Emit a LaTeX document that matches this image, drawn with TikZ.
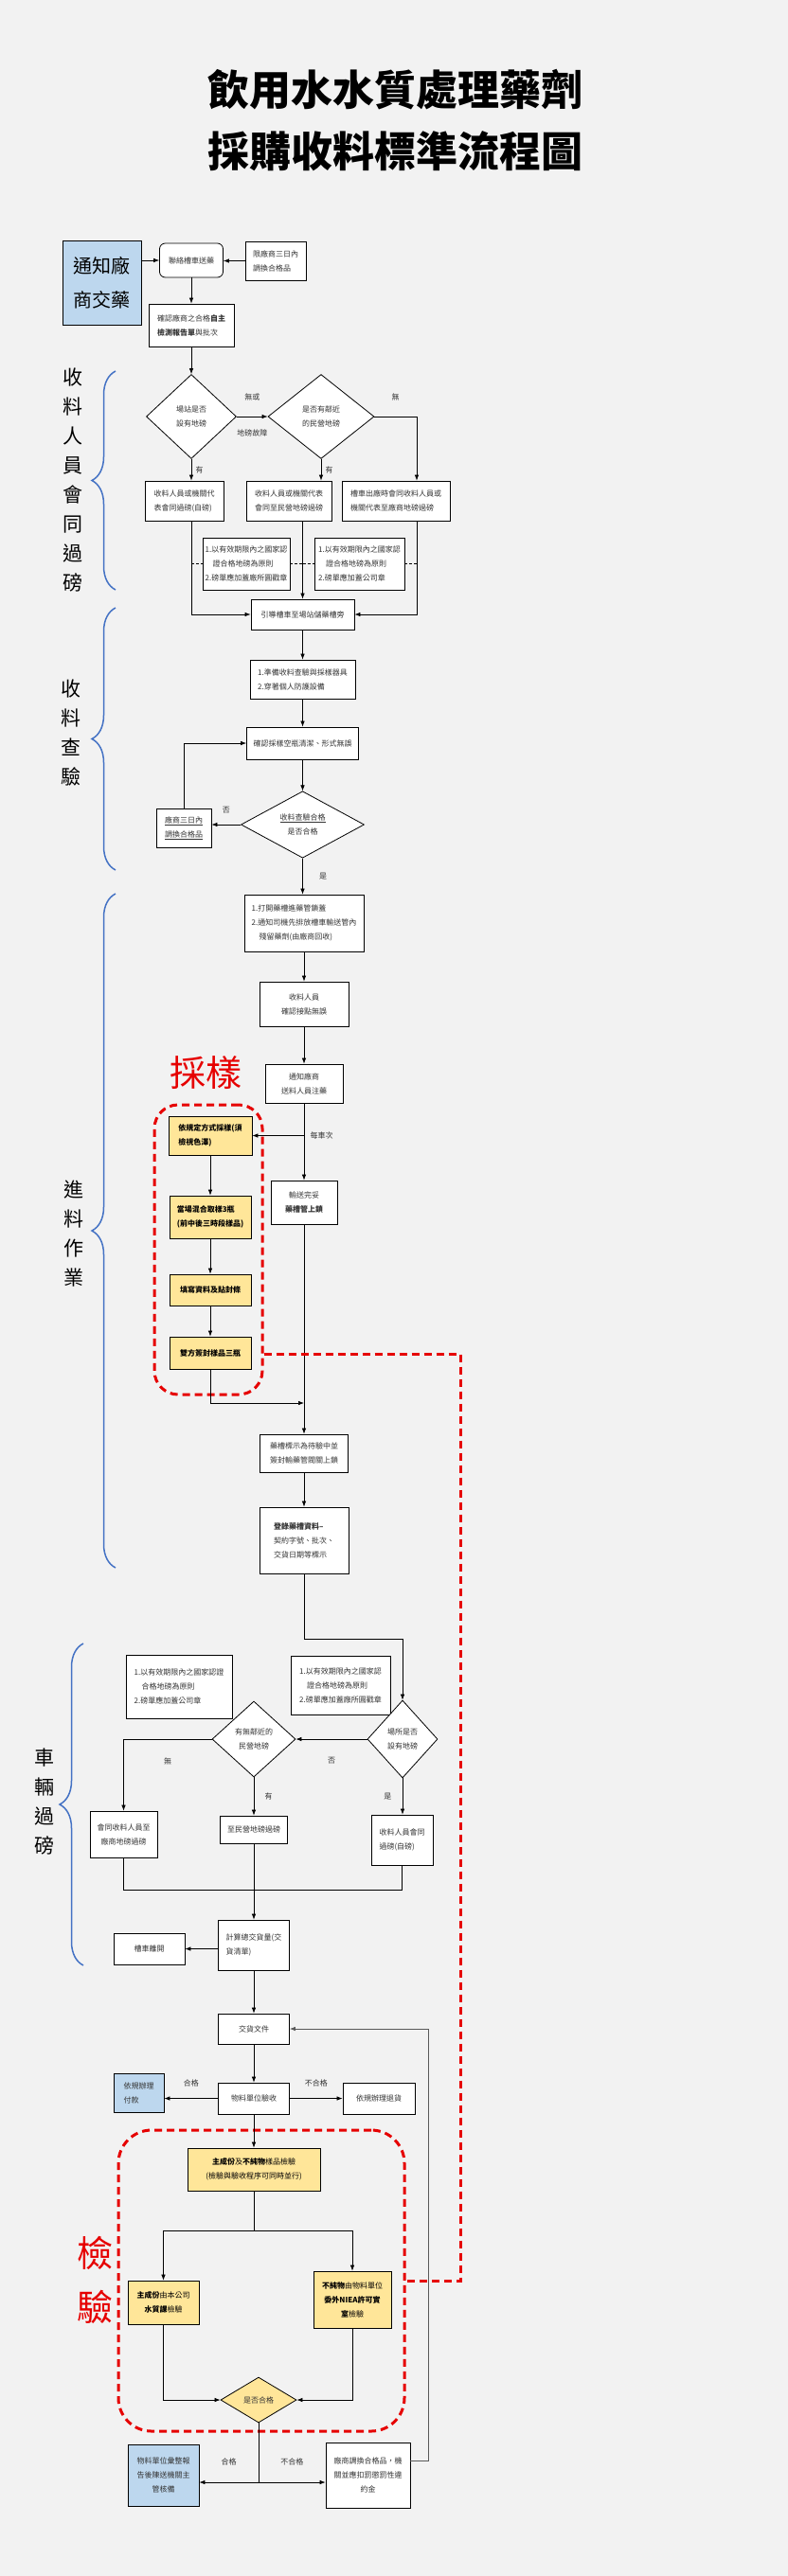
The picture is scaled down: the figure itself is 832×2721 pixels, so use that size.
\documentclass[tikz,border=0pt]{standalone}
\usepackage{fontspec}
\setmainfont{Noto Sans CJK TC}
\usetikzlibrary{shapes.geometric,arrows.meta,decorations.pathreplacing}
\definecolor{bgcol}{HTML}{F2F2F2}
\definecolor{boxblue}{HTML}{BDD7EE}
\definecolor{boxyellow}{HTML}{FFE699}
\definecolor{bracecol}{HTML}{4472C4}
\definecolor{redline}{HTML}{E60000}
\definecolor{txtgray}{HTML}{333333}

\begin{document}
\begin{tikzpicture}[x=1pt,y=-1pt,>={Latex[length=6pt,width=4.5pt]},
    wbox/.style={draw,fill=white,line width=0.8pt,inner sep=2pt,text=txtgray,
      font=\fontsize{8}{15}\selectfont,align=left},
    ybox/.style={wbox,fill=boxyellow,text=black},
    sbox/.style={ybox,font=\fontsize{8}{15}\selectfont\bfseries},
    bbox/.style={wbox,fill=boxblue},
    sz/.style 2 args={minimum width=#1pt,minimum height=#2pt},
    dia/.style={diamond,draw,fill=white,line width=0.8pt,inner sep=0pt,text=txtgray,
      font=\fontsize{8}{15}\selectfont,align=center},
    lab/.style={font=\fontsize{8}{10}\selectfont,text=txtgray},
    conn/.style={line width=0.7pt},
    reddash/.style={draw=redline,line width=3pt,dash pattern=on 8pt off 5pt},
    redarea/.style={reddash,rounded corners=25pt,inner sep=0pt},
    redtxt/.style={text=redline,font=\fontsize{38}{57}\selectfont,align=center},
    bluebrace/.style={decorate,decoration={brace,amplitude=25pt},draw=bracecol,line width=1.5pt},
    side/.style={font=\fontsize{21}{31}\selectfont,align=center}]
  \fill[bgcol] (0,0) rectangle (832,2721);
  \node[font=\fontsize{44}{65}\selectfont\bfseries,align=center] (title) at (417,127.5)
    {飲用水水質處理藥劑\\採購收料標準流程圖};

  \node[redarea,sz={114}{306}] (samplearea) at (220,1320) {};
  \node[redarea,rounded corners=35pt,sz={302}{318}] (testarea) at (276,2409) {};
  \node[redtxt] (cap1) at (217,1133) {採樣};
  \node[redtxt] (cap2) at (100,2408.5) {檢\\驗};

  \draw[bluebrace] (122,623) -- (122,392);
  \draw[bluebrace] (122,919) -- (122,642);
  \draw[bluebrace] (122,1656) -- (122,944);
  \draw[bluebrace] (88,2076) -- (88,1736);
  \node[side] (sec1) at (77,507.5) {收\\料\\人\\員\\會\\同\\過\\磅};
  \node[side] (sec2) at (75,774.5) {收\\料\\查\\驗};
  \node[side] (sec3) at (78,1303.5) {進\\料\\作\\業};
  \node[side] (sec4) at (47,1902.5) {車\\輛\\過\\磅};

  \node[bbox,sz={83}{89},text=black,font=\fontsize{20}{36}\selectfont] (notify) at (107.5,298.5) {通知廠\\商交藥};
  \node[wbox,sz={67}{36},rounded corners=6pt] (contact) at (202,275) {聯絡槽車送藥};
  \node[wbox,sz={64}{41}] (limit3) at (291,275.5) {限廠商三日內\\調換合格品};
  \node[wbox,sz={90}{45}] (check) at (202,343.5) {確認廠商之合格\textbf{自主}\\\textbf{檢測報告單}與批次};
  \node[dia,sz={95}{89}] (d1) at (202,440) {場站是否\\設有地磅};
  \node[dia,sz={112}{89}] (d2) at (339,440) {是否有鄰近\\的民營地磅};
  \node[wbox,sz={83}{42}] (w1) at (194.5,529) {收料人員或機關代\\表會同過磅(自磅)};
  \node[wbox,sz={90}{42}] (w2) at (305,529) {收料人員或機關代表\\會同至民營地磅過磅};
  \node[wbox,sz={114}{42}] (w3) at (418,529) {槽車出廠時會同收料人員或\\機關代表至廠商地磅過磅};
  \coordinate (w3in) at ([xshift=22pt]w3.north);
  \coordinate (w3out) at ([xshift=22pt]w3.south);
  \node[wbox,sz={92}{55}] (note1) at (260,595.5) {1.以有效期限內之國家認\\　證合格地磅為原則\\2.磅單應加蓋廠所圓戳章};
  \node[wbox,sz={95}{55}] (note2) at (379.5,595.5) {1.以有效期限內之國家認\\　證合格地磅為原則\\2.磅單應加蓋公司章};
  \node[wbox,sz={109}{32}] (guide) at (319.5,649) {引導槽車至場站儲藥槽旁};
  \node[wbox,sz={111}{41}] (prep) at (319.5,717.5) {1.準備收料查驗與採樣器具\\2.穿著個人防護設備};
  \node[wbox,sz={118}{34}] (bottle) at (319.5,785) {確認採樣空瓶清潔、形式無誤};
  \node[dia,sz={130}{68}] (d3) at (319.5,871) {\underline{收料查驗合格}\\是否合格};
  \node[wbox,sz={58}{41}] (swap) at (194,874.5) {\underline{廠商三日內}\\\underline{調換合格品}};
  \node[wbox,sz={126}{60}] (open) at (321,975) {1.打開藥槽進藥管鎖蓋\\2.通知司機先排放槽車輸送管內\\　殘留藥劑(由廠商回收)};
  \node[wbox,sz={94}{47},align=center] (staff) at (321,1060.5) {收料人員\\確認接點無誤};
  \node[wbox,sz={82}{41},align=center] (inform) at (321,1144.5) {通知廠商\\送料人員注藥};
  \node[sbox,sz={88}{41}] (s1) at (222,1199.5) {依規定方式採樣(須\\檢視色澤)};
  \node[sbox,sz={86}{45}] (s2) at (222,1285.5) {當場混合取樣3瓶\\(前中後三時段樣品)};
  \node[sbox,sz={86}{33}] (s3) at (222,1362.5) {填寫資料及貼封條};
  \node[sbox,sz={86}{34}] (s4) at (222,1429) {雙方簽封樣品三瓶};
  \node[wbox,sz={70}{46},align=center] (done) at (321,1270) {輸送完妥\\\textbf{藥槽管上鎖}};
  \node[wbox,sz={93}{40},align=center] (mark) at (321,1535) {藥槽標示為待驗中並\\簽封輸藥管閥關上鎖};
  \node[wbox,sz={94}{70}] (record) at (321,1627) {\textbf{登錄藥槽資料–}\\契約字號、批次、\\交貨日期等標示};
  \coordinate (join) at (321,1482);
  \coordinate (bend) at (321,1731);
  \coordinate (redA) at (486,1430);

  \node[wbox,sz={112}{67}] (note3) at (189,1781.5) {1.以有效期限內之國家認證\\　合格地磅為原則\\2.磅單應加蓋公司章};
  \node[wbox,sz={105}{62}] (note4) at (359.5,1780) {1.以有效期限內之國家認\\　證合格地磅為原則\\2.磅單應加蓋廠所圓戳章};
  \node[dia,sz={74}{82}] (d4) at (425,1837) {場所是否\\設有地磅};
  \node[dia,sz={88}{80}] (d5) at (268,1837) {有無鄰近的\\民營地磅};
  \node[wbox,sz={71}{49},align=center] (v1) at (130.5,1937.5) {會同收料人員至\\廠商地磅過磅};
  \node[wbox,sz={71}{29}] (v2) at (268,1932.5) {至民營地磅過磅};
  \node[wbox,sz={65}{53}] (v3) at (424.5,1943.5) {收料人員會同\\過磅(自磅)};
  \coordinate (mergeL) at (130.5,1996);
  \coordinate (mergeR) at (424.5,1996);
  \node[wbox,sz={75}{53}] (total) at (268,2054.5) {計算總交貨量(交\\貨清單)};
  \node[wbox,sz={75}{33}] (leave) at (157.5,2058.5) {槽車離開};
  \node[wbox,sz={75}{32}] (docs) at (268,2143) {交貨文件};
  \node[wbox,sz={75}{33}] (accept) at (268,2216.5) {物料單位驗收};
  \node[bbox,sz={53}{41}] (pay) at (146.5,2210.5) {依規辦理\\付款};
  \node[wbox,sz={76}{33}] (ret) at (400,2216.5) {依規辦理退貨};
  \node[ybox,sz={140}{45},align=center] (test) at (268,2291.5) {\textbf{主成份}及\textbf{不純物}樣品檢驗\\(檢驗與驗收程序可同時並行)};
  \coordinate (split) at (268,2356);
  \node[ybox,sz={75}{46},align=center] (main) at (172.5,2432) {\textbf{主成份}由本公司\\\textbf{水質課}檢驗};
  \node[ybox,sz={82}{60},align=center] (imp) at (372,2429) {\textbf{不純物}由物料單位\\\textbf{委外NIEA許可實}\\\textbf{室}檢驗};
  \node[dia,fill=boxyellow,sz={80}{48}] (d6) at (273,2535) {是否合格};
  \coordinate (split2) at (273,2622);
  \node[bbox,sz={75}{65},align=center] (report) at (172.5,2614.5) {物料單位彙整報\\告後陳送機關主\\管核備};
  \node[wbox,sz={89}{69},align=center] (penalty) at (388.5,2614.5) {廠商調換合格品，機\\關並應扣罰懲罰性違\\約金};

  \draw[conn,->] (notify.east |- contact.west) -- (contact.west);
  \draw[conn,->] (limit3.west) -- (limit3.west -| contact.east);
  \draw[conn,->] (contact.south) -- (check.north);
  \draw[conn,->] (check.south) -- (d1.north);
  \draw[conn,->] (d1.east) -- (d2.west) node[lab,midway,above=13pt]{無或} node[lab,midway,below=10pt]{地磅故障};
  \draw[conn,->] (d2.east) -| (w3in) node[lab,pos=0.25,above=13pt]{無};
  \draw[conn,->] (d1.south) -- (d1.south |- w1.north) node[lab,midway,right=1pt]{有};
  \draw[conn,->] (d2.south) -- (d2.south |- w2.north) node[lab,midway,right=1pt]{有};
  \draw[conn,->] (w1.south -| d1.south) |- (guide.west);
  \draw[conn,->] (w2.south -| guide.north) -- (guide.north);
  \draw[conn,->] (w3out) |- (guide.east);
  \draw[conn,densely dashed] (note1.west -| d1.south) -- (note1.west);
  \draw[conn,densely dashed] (note1.east) -- (note1.east -| guide.north);
  \draw[conn,densely dashed] (note2.west -| guide.north) -- (note2.west);
  \draw[conn,densely dashed] (note2.east) -- (note2.east -| w3out);
  \draw[conn,->] (guide.south) -- (prep.north);
  \draw[conn,->] (prep.south) -- (bottle.north);
  \draw[conn,->] (bottle.south) -- (d3.north);
  \draw[conn,->] (d3.west) -- (d3.west -| swap.east) node[lab,midway,above=8pt]{否};
  \draw[conn,->] (swap.north) |- (bottle.west);
  \draw[conn,->] (d3.south) -- (d3.south |- open.north) node[lab,midway,right=14pt]{是};
  \draw[conn,->] (open.south) -- (staff.north);
  \draw[conn,->] (staff.south) -- (inform.north);
  \draw[conn,->] (inform.south) -- (done.north);
  \draw[conn,->] (inform.south |- s1.east) node[lab,right=3pt]{每車次} -- (s1.east);
  \draw[conn,->] (s1.south) -- (s2.north);
  \draw[conn,->] (s2.south) -- (s3.north);
  \draw[conn,->] (s3.south) -- (s4.north);
  \draw[conn,->] (s4.south) |- (join);
  \draw[conn,->] (done.south) -- (mark.north);
  \draw[conn,->] (mark.south) -- (record.north);
  \draw[reddash] (samplearea.east |- redA) -- (redA) |- (testarea.east);
  \draw[conn,->] (record.south) -- (bend) -| (d4.north);
  \draw[conn,->] (d4.west) -- (d5.east) node[lab,midway,below=16pt]{否};
  \draw[conn,->] (d5.west) -| (v1.north) node[lab,pos=0.25,below=16pt]{無};
  \draw[conn,->] (d5.south) -- (d5.south |- v2.north) node[lab,midway,right=8pt]{有};
  \draw[conn,->] (d4.south) -- (d4.south |- v3.north) node[lab,midway,left=8pt]{是};
  \draw[conn] (v1.south) -- (mergeL) -- (mergeR) -- (v3.south);
  \draw[conn,->] (v2.south) -- (total.north);
  \draw[conn,->] (total.west |- leave.east) -- (leave.east);
  \draw[conn,->] (total.south) -- (docs.north);
  \draw[conn,->] (docs.south) -- (accept.north);
  \draw[conn,->] (accept.west) -- (accept.west -| pay.east) node[lab,midway,above=9pt]{合格};
  \draw[conn,->] (accept.east) -- (ret.west) node[lab,midway,above=9pt]{不合格};
  \draw[conn,->] (accept.south) -- (test.north);
  \draw[conn] (test.south) -- (split);
  \draw[conn,->] (split) -| (main.north);
  \draw[conn,->] (split) -| (imp.north);
  \draw[conn,->] (main.south) |- (d6.west);
  \draw[conn,->] (imp.south) |- (d6.east);
  \draw[conn] (d6.south) -- (split2);
  \draw[conn,->] (split2) -- (split2 -| report.east) node[lab,midway,above=14pt]{合格};
  \draw[conn,->] (split2) -- (split2 -| penalty.west) node[lab,midway,above=14pt]{不合格};
  \draw[conn,->,draw=black!65] ([yshift=15pt]penalty.east) -- ++(19,0) |- (docs.east);
\end{tikzpicture}
\end{document}
